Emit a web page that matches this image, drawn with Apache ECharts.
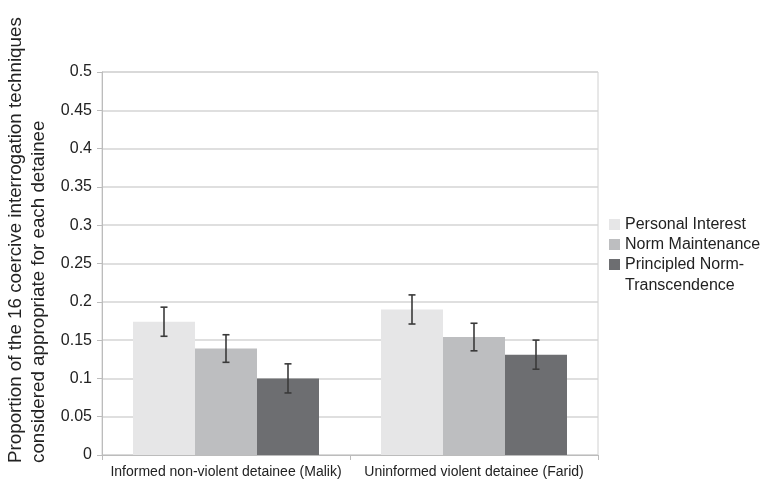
<!DOCTYPE html>
<html><head><meta charset="utf-8">
<script src="https://cdn.jsdelivr.net/npm/echarts@6/dist/echarts.min.js"></script>
<style>html,body{margin:0;padding:0;background:#fff}#c{width:762px;height:485px}</style>
</head><body><div id="c"></div>
<script>
const categories = ['Informed non-violent detainee (Malik)', 'Uninformed violent detainee (Farid)'];
const seriesNames = ['Personal Interest', 'Norm Maintenance', 'Principled Norm-Transcendence'];
const personalInterest = [0.174, 0.19];
const normMaintenance = [0.139, 0.154];
const principled = [0.10, 0.131];
const personalInterestErr = [0.019, 0.019];
const normMaintenanceErr = [0.018, 0.018];
const principledErr = [0.019, 0.019];
const yTicks = [0, 0.05, 0.1, 0.15, 0.2, 0.25, 0.3, 0.35, 0.4, 0.45, 0.5];

const colors = ['#e6e6e7', '#bdbec0', '#6d6e71'];
const values = [personalInterest, normMaintenance, principled];
const errs = [personalInterestErr, normMaintenanceErr, principledErr];
const FONT = '"Liberation Sans", Arial, sans-serif';

const chart = echarts.init(document.getElementById('c'), null, {renderer: 'canvas'});

const barSeries = seriesNames.map((n, i) => ({
  name: n, type: 'bar', data: values[i],
  itemStyle: {color: colors[i]},
  barGap: '0%', barCategoryGap: '25%'
}));

const errSeries = seriesNames.map((n, i) => ({
  type: 'custom',
  name: n + ' err',
  z: 10,
  silent: true,
  data: categories.map((c, j) => [j, values[i][j] - errs[i][j], values[i][j] + errs[i][j]]),
  renderItem: function (params, api) {
    const x = api.value(0);
    const lo = api.coord([x, api.value(1)]);
    const hi = api.coord([x, api.value(2)]);
    const catW = api.size([1, 0])[0];
    const bw = catW * 0.75 / 3;
    const cx = lo[0] + (i - 1) * bw;
    const cap = 3.5;
    const style = {stroke: '#3a3a3a', lineWidth: 1.6};
    return {type: 'group', children: [
      {type: 'line', shape: {x1: cx, y1: hi[1], x2: cx, y2: lo[1]}, style},
      {type: 'line', shape: {x1: cx - cap, y1: hi[1], x2: cx + cap, y2: hi[1]}, style},
      {type: 'line', shape: {x1: cx - cap, y1: lo[1], x2: cx + cap, y2: lo[1]}, style}
    ]};
  }
}));

chart.setOption({
  animation: false,
  textStyle: {fontFamily: FONT},
  grid: {left: 102, right: 164, top: 72, bottom: 30, show: true, borderColor: '#d0d0d0', borderWidth: 1},
  legend: {
    data: seriesNames, orient: 'vertical', left: 609, top: 215, padding: 0,
    itemWidth: 11, itemHeight: 11, itemGap: 1,
    icon: 'rect',
    textStyle: {fontSize: 16, color: '#222', fontFamily: FONT, lineHeight: 19},
    formatter: n => n === 'Principled Norm-Transcendence' ? 'Principled Norm-' : n
  },
  xAxis: {
    type: 'category', data: categories,
    axisLine: {lineStyle: {color: '#bcbcbc', width: 1}},
    axisTick: {show: true, length: 5, lineStyle: {color: '#bcbcbc'}},
    axisLabel: {fontSize: 14, color: '#222', margin: 10, interval: 0, fontFamily: FONT}
  },
  yAxis: {
    type: 'value', min: 0, max: 0.5, interval: 0.05,
    axisLine: {show: true, lineStyle: {color: '#bcbcbc'}},
    axisTick: {show: true, length: 5, lineStyle: {color: '#bcbcbc'}},
    splitLine: {lineStyle: {color: '#d4d4d4', width: 1.5}},
    axisLabel: {fontSize: 16, color: '#222', margin: 10, fontFamily: FONT,
      formatter: v => { const t = yTicks.find(x => Math.abs(x - v) < 1e-9); return String(t !== undefined ? t : v); }}
  },
  graphic: [{
    type: 'text', rotation: Math.PI / 2, x: 27, y: 463,
    style: {text: 'Proportion of the 16 coercive interrogation techniques\nconsidered appropriate for each detainee',
      font: '18.8px ' + FONT, fill: '#222', align: 'left', verticalAlign: 'middle', lineHeight: 23}
  }, {
    type: 'text', x: 625, y: 286,
    style: {text: 'Transcendence', font: '16px ' + FONT, fill: '#222', align: 'left', verticalAlign: 'middle'}
  }],
  series: [...barSeries, ...errSeries]
});
</script></body></html>
